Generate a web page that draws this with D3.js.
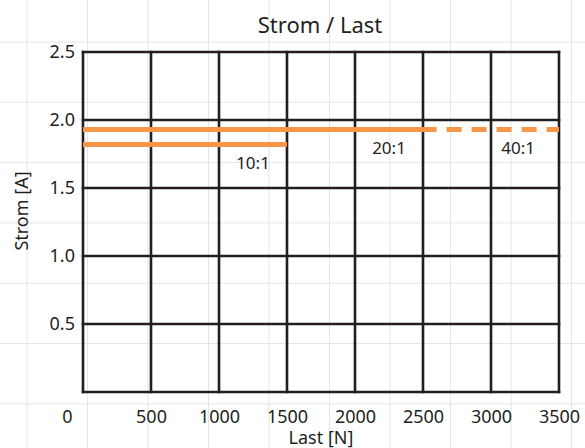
<!DOCTYPE html>
<html>
<head>
<meta charset="utf-8">
<script src="https://cdn.jsdelivr.net/npm/d3@7"></script>
<style>
  html, body { margin: 0; padding: 0; background: #fff; }
  svg { display: block; }
  text { font-family: "Noto Sans", "Open Sans", sans-serif; fill: #231f20; }
</style>
</head>
<body>
<svg id="chart" width="585" height="448"></svg>
<script>
// ---- data ----
const xTicks = [0, 500, 1000, 1500, 2000, 2500, 3000, 3500];
const yTicks = [0.5, 1.0, 1.5, 2.0, 2.5];
const seriesNames = ["10:1", "20:1", "40:1"];
const seriesLoad = [[0, 1500], [0, 2600], [2600, 3500]];   // Last [N]
const seriesCurrent = [[1.82, 1.82], [1.93, 1.93], [1.93, 1.93]]; // Strom [A]
const labelPos = [[1250, 1.64], [2250, 1.75], [3200, 1.75]];   // label anchor (data units)

// ---- layout ----
const W = 585, H = 448;
const m = { left: 83, right: 26, top: 52, bottom: 56 };
const svg = d3.select("#chart");

// decorative background paper grid
const bg = svg.append("g").attr("class", "paper");
bg.selectAll("line.v").data(d3.range(10)).join("line")
  .attr("x1", i => 27 + i * 60.5).attr("x2", i => 27 + i * 60.5)
  .attr("y1", 0).attr("y2", H)
  .attr("stroke", "#e2e4f0").attr("stroke-width", 1);
bg.selectAll("line.h").data(d3.range(8)).join("line")
  .attr("y1", i => 42 + i * 60.3).attr("y2", i => 42 + i * 60.3)
  .attr("x1", 0).attr("x2", W)
  .attr("stroke", "#e2e4f0").attr("stroke-width", 1);

const x = d3.scaleLinear().domain([0, 3500]).range([m.left, W - m.right]);
const y = d3.scaleLinear().domain([0, 2.5]).range([H - m.bottom, m.top]);

// black grid
const grid = svg.append("g").attr("stroke", "#231f20").attr("stroke-width", 2.6);
grid.selectAll("line.gx").data(xTicks).join("line")
  .attr("x1", d => x(d)).attr("x2", d => x(d))
  .attr("y1", y(0) + 1.3).attr("y2", y(2.5) - 1.3);
grid.selectAll("line.gy").data([0].concat(yTicks)).join("line")
  .attr("y1", d => y(d)).attr("y2", d => y(d))
  .attr("x1", x(0) - 1.3).attr("x2", x(3500) + 1.3);

// series
const color = "#f79646";
const lineGen = d3.line().x(d => x(d[0])).y(d => y(d[1]));
seriesNames.forEach((name, i) => {
  const pts = seriesLoad[i].map((v, j) => [v, seriesCurrent[i][j]]);
  const p = svg.append("path")
    .attr("d", lineGen(pts))
    .attr("fill", "none")
    .attr("stroke", color)
    .attr("stroke-width", 5);
  if (name === "40:1") p.attr("stroke-dasharray", "15,10").attr("stroke-dashoffset", 15);
  svg.append("text")
    .attr("x", x(labelPos[i][0]))
    .attr("y", y(labelPos[i][1]))
    .attr("text-anchor", "middle")
    .attr("font-size", 17)
    .text(name);
});

// axes (labels only)
const xAxis = svg.append("g")
  .attr("transform", `translate(0,${y(0)})`)
  .call(d3.axisBottom(x).tickValues(xTicks).tickSize(0).tickPadding(0).tickFormat(d3.format("d")));
xAxis.select(".domain").remove();
xAxis.selectAll("text")
  .attr("font-size", 18).attr("font-family", null)
  .attr("dy", null).attr("y", 31)
  .attr("dx", d => d === 0 ? -16 : 0)
  .style("fill", "#231f20");

const yAxis = svg.append("g")
  .attr("transform", `translate(${m.left},0)`)
  .call(d3.axisLeft(y).tickValues(yTicks).tickSize(0).tickPadding(8).tickFormat(d3.format(".1f")));
yAxis.select(".domain").remove();
yAxis.selectAll("text")
  .attr("font-size", 18).attr("font-family", null)
  .style("fill", "#231f20");

// titles
svg.append("text").attr("x", 320).attr("y", 33)
  .attr("text-anchor", "middle").attr("font-size", 22).text("Strom / Last");
svg.append("text").attr("x", 321).attr("y", 444)
  .attr("text-anchor", "middle").attr("font-size", 18).text("Last [N]");
svg.append("text")
  .attr("transform", "translate(28,211) rotate(-90)")
  .attr("text-anchor", "middle").attr("font-size", 18).text("Strom [A]");
</script>
</body>
</html>
